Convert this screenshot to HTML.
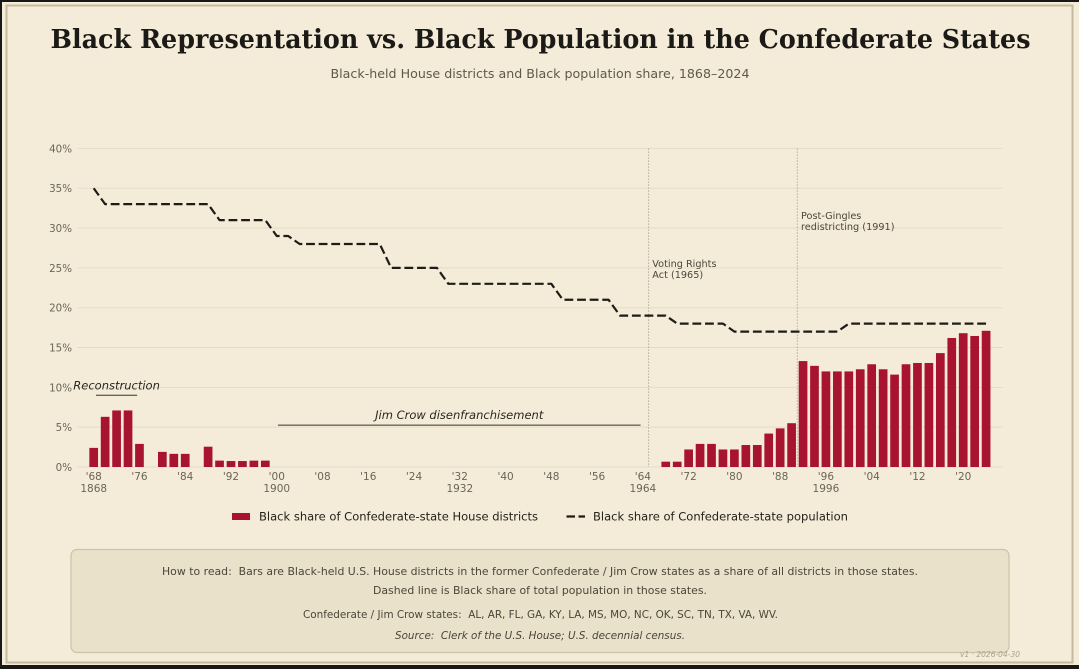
<!DOCTYPE html>
<html lang="en">
<head>
<meta charset="utf-8">
<title>Black Representation vs. Black Population in the Confederate States</title>
<style>
html,body{margin:0;padding:0;background:#1a1816;}
body{width:1079px;height:669px;overflow:hidden;}
svg{display:block;}
text{font-family:"DejaVu Sans","Liberation Sans",sans-serif;white-space:pre;}
</style>
</head>
<body>
<svg id="chart" width="1079" height="669" viewBox="0 0 1079 669" xmlns="http://www.w3.org/2000/svg">
  <rect x="2" y="2" width="1077" height="663" fill="#f4ecd9"/>
  <rect x="6.5" y="5.5" width="1066" height="657" fill="none" stroke="#c3baa0" stroke-width="2"/>
  <text x="540.5" y="48" text-anchor="middle" textLength="980" lengthAdjust="spacingAndGlyphs" style="font-family:'DejaVu Serif','Liberation Serif',serif;font-weight:700;font-size:26px;" fill="#1c1a16">Black Representation vs. Black Population in the Confederate States</text>
  <text x="540" y="78" text-anchor="middle" textLength="419" lengthAdjust="spacingAndGlyphs" font-size="12.5" fill="#5e594c">Black-held House districts and Black population share, 1868–2024</text>
  <g id="grid-layer"></g>
  <g id="y-layer"></g>
  <g id="x-layer"></g>
  <g id="event-layer"></g>
  <g id="bar-layer"></g>
  <path id="pop-line" fill="none" stroke="#1f1c18" stroke-width="2.2" stroke-dasharray="8.8 3.8" stroke-linejoin="round"/>
  <g id="era-layer"></g>
  <g>
    <g>
      <rect x="232" y="513" width="18" height="7" fill="#a8142f"/>
      <text x="259" y="520.5" font-size="11.8" textLength="279" lengthAdjust="spacingAndGlyphs" fill="#25221c">Black share of Confederate-state House districts</text>
    </g>
    <g>
      <line x1="566.5" y1="516.5" x2="585" y2="516.5" stroke="#1f1c18" stroke-width="2.2" stroke-dasharray="8.5 3.5"/>
      <text x="593" y="520.5" font-size="11.8" textLength="255" lengthAdjust="spacingAndGlyphs" fill="#25221c">Black share of Confederate-state population</text>
    </g>
  </g>
  <g>
    <rect x="71" y="549.5" width="938" height="103" rx="6" fill="#e9e1c9" stroke="#cbc3a6" stroke-width="1.2"/>
    <text x="540" y="575" text-anchor="middle" font-size="11" textLength="756" lengthAdjust="spacingAndGlyphs" fill="#4b4638">How to read:  Bars are Black-held U.S. House districts in the former Confederate / Jim Crow states as a share of all districts in those states.</text>
    <text x="540" y="594" text-anchor="middle" font-size="11" textLength="334" lengthAdjust="spacingAndGlyphs" fill="#4b4638">Dashed line is Black share of total population in those states.</text>
    <text x="540.5" y="618" text-anchor="middle" font-size="11" textLength="475" lengthAdjust="spacingAndGlyphs" fill="#4b4638">Confederate / Jim Crow states:  AL, AR, FL, GA, KY, LA, MS, MO, NC, OK, SC, TN, TX, VA, WV.</text>
    <text x="540" y="639" text-anchor="middle" font-size="10.5" font-style="italic" textLength="290" lengthAdjust="spacingAndGlyphs" fill="#4b4638">Source:  Clerk of the U.S. House; U.S. decennial census.</text>
  </g>
  <text x="960" y="657" font-size="8" font-style="italic" textLength="60" lengthAdjust="spacingAndGlyphs" fill="#a8a28e">v1 · 2026-04-30</text>
</svg>
<script>
const barYears = [1868,1870,1872,1874,1876,1880,1882,1884,1888,1890,1892,1894,1896,1898,1968,1970,1972,1974,1976,1978,1980,1982,1984,1986,1988,1990,1992,1994,1996,1998,2000,2002,2004,2006,2008,2010,2012,2014,2016,2018,2020,2022,2024];
const barShares = [2.4,6.3,7.1,7.1,2.9,1.9,1.65,1.65,2.55,0.8,0.75,0.75,0.8,0.8,0.67,0.67,2.2,2.9,2.9,2.2,2.2,2.76,2.76,4.2,4.85,5.5,13.3,12.7,12.0,12.0,12.0,12.27,12.9,12.27,11.6,12.9,13.06,13.06,14.3,16.2,16.8,16.45,17.1];
const lineYears = [1868,1870,1888,1890,1898,1900,1902,1904,1918,1920,1928,1930,1948,1950,1958,1960,1968,1970,1978,1980,1998,2000,2024];
const lineShares = [35,33,33,31,31,29,29,28,28,25,25,23,23,21,21,19,19,18,18,17,17,18,18];
const yTicks = [0,5,10,15,20,25,30,35,40];
const xTickYears = [1868,1876,1884,1892,1900,1908,1916,1924,1932,1940,1948,1956,1964,1972,1980,1988,1996,2004,2012,2020];
const xTickLabels = ["'68","'76","'84","'92","'00","'08","'16","'24","'32","'40","'48","'56","'64","'72","'80","'88","'96","'04","'12","'20"];
const xFullYears = [1868,1900,1932,1964,1996];
const eventYears = [1965,1991];
const eventLabels = [["Voting Rights","Act (1965)"],["Post-Gingles","redistricting (1991)"]];
const eventLabelShares = [25.1,31.15];
const eraStarts = [1868.4,1900.2];
const eraEnds = [1875.6,1963.6];
const eraNames = ["Reconstruction","Jim Crow disenfranchisement"];
const eraShares = [9,5.25];

const NS = "http://www.w3.org/2000/svg";
const xScale = function (year) { return 93.7 + (year - 1868) * 5.7205; };
const yScale = function (share) { return 467 - share * 7.965; };
const BAR_WIDTH = 8.7;
const layer = function (id) { return document.getElementById(id); };
const make = function (tag, parent, props, content) {
  const el = document.createElementNS(NS, tag);
  Object.keys(props).forEach(function (k) { el.setAttribute(k, props[k]); });
  if (content !== undefined) el.textContent = content;
  parent.appendChild(el);
  return el;
};

yTicks.forEach(function (t) {
  const y = yScale(t);
  const grid = make("line", layer("grid-layer"), {x1: 77, x2: 1003, y1: y, y2: y, stroke: "#e3dcc5", "stroke-width": 1});
  
  
  const label = make("text", layer("y-layer"), {x: 72, y: y + 4, "text-anchor": "end", "font-size": 10.3, fill: "#6a6556"}, t + "%");
  
  
});

xTickYears.forEach(function (yr, i) {
  const label = make("text", layer("x-layer"), {x: xScale(yr), y: 480, "text-anchor": "middle", "font-size": 10.5, fill: "#6a6556"}, xTickLabels[i]);
  
  
});

xFullYears.forEach(function (yr) {
  const label = make("text", layer("x-layer"), {x: xScale(yr), y: 492, "text-anchor": "middle", "font-size": 10.5, fill: "#6a6556"}, String(yr));
  
  
});

eventYears.forEach(function (yr, i) {
  const x = xScale(yr);
  const rule = make("line", layer("event-layer"), {x1: x, x2: x, y1: yScale(40), y2: yScale(0), stroke: "#b5af9b", "stroke-width": 1, "stroke-dasharray": "1.5 1.5"});
  
  
  eventLabels[i].forEach(function (txt, j) {
    const label = make("text", layer("event-layer"), {x: x + 3.7, y: yScale(eventLabelShares[i]) + j * 11, "font-size": 9.7, fill: "#4a463a"}, txt);
    
    
  });
});

barYears.forEach(function (yr, i) {
  const top = yScale(barShares[i]);
  const bar = make("rect", layer("bar-layer"), {x: xScale(yr) - BAR_WIDTH / 2, y: top, width: BAR_WIDTH, height: yScale(0) - top, fill: "#a8142f"});
  
  
});

document.getElementById("pop-line").setAttribute("d", lineYears.map(function (yr, i) {
  return (i ? "L" : "M") + xScale(yr).toFixed(2) + " " + yScale(lineShares[i]).toFixed(2);
}).join(" "));

eraNames.forEach(function (name, i) {
  const x1 = xScale(eraStarts[i]);
  const x2 = xScale(eraEnds[i]);
  const y = yScale(eraShares[i]);
  const rule = make("line", layer("era-layer"), {x1: x1, x2: x2, y1: y, y2: y, stroke: "#6b6553", "stroke-width": 1.3});
  
  
  const label = make("text", layer("era-layer"), {x: (x1 + x2) / 2, y: y - 6, "text-anchor": "middle", "font-size": 11.5, "font-style": "italic", fill: "#2a2720"}, name);
  
  
});
</script>
</body>
</html>
